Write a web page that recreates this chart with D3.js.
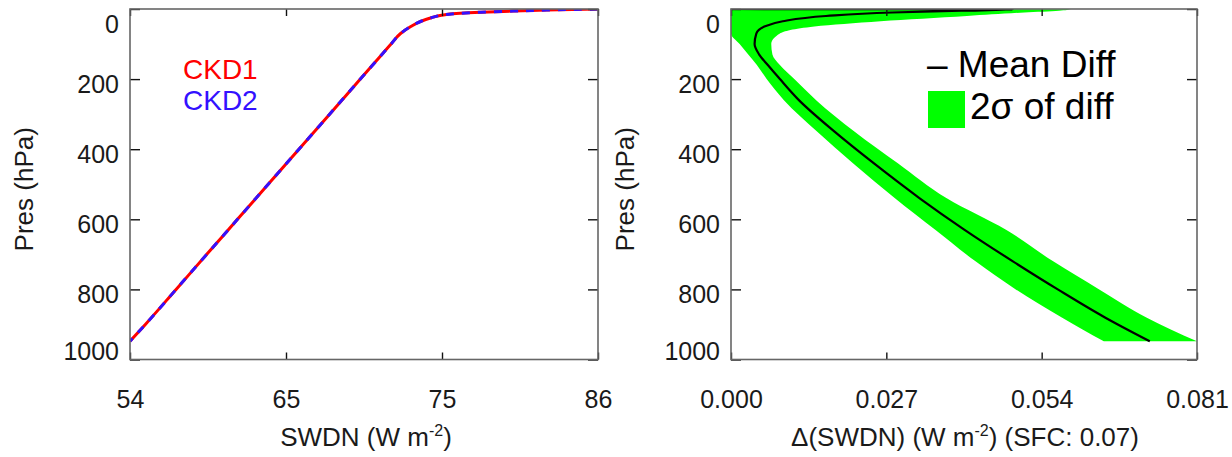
<!DOCTYPE html>
<html><head><meta charset="utf-8">
<script src="https://cdn.jsdelivr.net/npm/d3@7"></script>
<style>
body{margin:0;background:#fff;}
svg{display:block;font-family:"Liberation Sans",Arial,Helvetica,sans-serif;}
</style></head><body>
<svg id="c" width="1232" height="457"></svg>
<script>
// ---------- data ----------
const presLeft = [0, 3, 6, 9, 13, 18, 25, 35, 50, 70, 100, 150, 200, 300, 400, 500, 600, 700, 800, 900, 948];
const swdnCKD1 = [86.0, 82.5, 80.2, 78.0, 76.3, 75.3, 74.6, 73.9, 73.2, 72.5, 71.85, 70.8, 69.75, 67.65, 65.55, 63.45, 61.35, 59.25, 57.15, 55.05, 54.0];
const swdnCKD2 = [86.0, 82.5, 80.2, 78.0, 76.3, 75.3, 74.6, 73.9, 73.2, 72.5, 71.85, 70.8, 69.75, 67.65, 65.55, 63.45, 61.35, 59.25, 57.15, 55.05, 54.0];

const presDiff = [0, 1, 5, 10, 20, 35, 50, 70, 100, 130, 160, 200, 260, 350, 440, 540, 630, 720, 800, 880, 948];
const diffMean = [0, 0.0490, 0.0400, 0.0280, 0.0165, 0.0090, 0.0058, 0.0044, 0.0041, 0.0049, 0.0064, 0.0085, 0.0118, 0.0180, 0.0248, 0.0328, 0.0406, 0.0490, 0.0568, 0.0650, 0.0728];
const diffLow  = [0, 0.0000, 0.0000, 0.0000, 0.0000, 0.0000, 0.0000, 0.0000, 0.0015, 0.0030, 0.0045, 0.0062, 0.0092, 0.0150, 0.0212, 0.0285, 0.0355, 0.0425, 0.0495, 0.0575, 0.0648];
const diffHigh = [0, 0.0590, 0.0570, 0.0510, 0.0410, 0.0260, 0.0145, 0.0085, 0.0070, 0.0072, 0.0085, 0.0110, 0.0148, 0.0215, 0.0290, 0.0375, 0.0478, 0.0560, 0.0640, 0.0722, 0.0810];

const yTicks = [0, 200, 400, 600, 800, 1000];
const xTicksLeft = [54, 54 + 32 / 3, 54 + 64 / 3, 86];
const xTicksRight = [0, 0.027, 0.054, 0.081];
const legendLeft = ["CKD1", "CKD2"];
const legendRight = ["\u2013 Mean Diff", "2\u03c3 of diff"];

// ---------- layout ----------
const svg = d3.select("#c");
const yTop = 9, yBot = 359.5;
const txtCol = "#1a1a1a";
const y = d3.scaleLinear().domain([0, 1000]).range([yTop, yBot]);

function frame(g, x, xTicks, xFmt) {
  const [x0, x1] = x.range();
  const ax = g.append("g").attr("transform", `translate(${x0},0)`)
    .call(d3.axisLeft(y).tickValues(yTicks).tickSizeInner(-10).tickSizeOuter(0).tickPadding(11).tickFormat(d3.format("d")));
  ax.selectAll("text").attr("transform", d => `translate(0,${d === 0 ? 15 : d === 1000 ? -8.5 : 5})`);
  g.append("g").attr("transform", `translate(${x1},0)`)
    .call(d3.axisRight(y).tickValues(yTicks).tickSizeInner(-10).tickSizeOuter(0).tickFormat(""));
  g.append("g").attr("transform", `translate(0,${yBot})`)
    .call(d3.axisBottom(x).tickValues(xTicks).tickSizeInner(-7).tickSizeOuter(0).tickPadding(31).tickFormat(xFmt));
  g.append("g").attr("transform", `translate(0,${yTop})`)
    .call(d3.axisTop(x).tickValues(xTicks).tickSizeInner(-7).tickSizeOuter(0).tickFormat(""));
  g.selectAll(".domain").remove();
  g.selectAll(".tick line").attr("stroke", "#111").attr("stroke-width", 1.4);
  g.selectAll(".tick text").attr("font-size", 25).attr("fill", txtCol)
    .attr("font-family", "'Liberation Sans',Arial,sans-serif");
  g.append("rect").attr("x", x0).attr("y", yTop).attr("width", x1 - x0).attr("height", yBot - yTop)
    .attr("fill", "none").attr("stroke", "#666").attr("stroke-width", 1.6);
  g.append("text").attr("transform", `translate(${x0 - 97},${(yTop + yBot) / 2 + 5}) rotate(-90)`)
    .attr("text-anchor", "middle").attr("font-size", 26).attr("fill", txtCol).text("Pres (hPa)");
}

// ---------- left panel ----------
const xL = d3.scaleLinear().domain([54, 86]).range([130, 598]);
const gL = svg.append("g");
svg.append("clipPath").attr("id", "clipL").append("rect").attr("x", 130).attr("y", yTop).attr("width", 468).attr("height", yBot - yTop);

const lineL = (vals) => d3.line().x((d, i) => xL(vals[i])).y(d => y(d)).curve(d3.curveMonotoneY)(presLeft);
gL.append("path").attr("d", lineL(swdnCKD1)).attr("clip-path", "url(#clipL)")
  .attr("fill", "none").attr("stroke", "#ff0000").attr("stroke-width", 3);
gL.append("path").attr("d", lineL(swdnCKD2)).attr("clip-path", "url(#clipL)")
  .attr("fill", "none").attr("stroke", "#3311ff").attr("stroke-width", 3).attr("stroke-dasharray", "8,8");
frame(gL, xL, xTicksLeft, d3.format(".0f"));

gL.append("text").attr("x", 183).attr("y", 78.5).attr("font-size", 28).attr("fill", "#ff0000").text(legendLeft[0]);
gL.append("text").attr("x", 183).attr("y", 110).attr("font-size", 28).attr("fill", "#3311ff").text(legendLeft[1]);

const tL = gL.append("text").attr("x", 366).attr("y", 446).attr("text-anchor", "middle").attr("font-size", 26).attr("fill", txtCol);
tL.append("tspan").text("SWDN (W m");
tL.append("tspan").attr("dy", -10).attr("font-size", 16).text("-2");
tL.append("tspan").attr("dy", 10).text(")");

// ---------- right panel ----------
const xR = d3.scaleLinear().domain([0, 0.081]).range([731, 1197]);
const gR = svg.append("g");
svg.append("clipPath").attr("id", "clipR").append("rect").attr("x", 731).attr("y", yTop).attr("width", 466).attr("height", yBot - yTop);

const area = d3.area().x0((d, i) => xR(diffLow[i])).x1((d, i) => xR(diffHigh[i])).y(d => y(d)).curve(d3.curveMonotoneY);
gR.append("path").attr("d", area(presDiff)).attr("clip-path", "url(#clipR)").attr("fill", "#00ff00");
const lineR = d3.line().x((d, i) => xR(diffMean[i])).y(d => y(d)).curve(d3.curveMonotoneY);
gR.append("path").attr("d", lineR(presDiff)).attr("clip-path", "url(#clipR)")
  .attr("fill", "none").attr("stroke", "#000").attr("stroke-width", 2.2);
frame(gR, xR, xTicksRight, d3.format(".3f"));

gR.append("text").attr("x", 927).attr("y", 77).attr("font-size", 37).attr("fill", "#000").text(legendRight[0]);
gR.append("rect").attr("x", 928).attr("y", 91).attr("width", 37).attr("height", 37).attr("fill", "#00ff00");
gR.append("text").attr("x", 970).attr("y", 119).attr("font-size", 37).attr("fill", "#000").text(legendRight[1]);

const tR = gR.append("text").attr("x", 965).attr("y", 446).attr("text-anchor", "middle").attr("font-size", 26).attr("fill", txtCol);
tR.append("tspan").text("\u0394(SWDN) (W m");
tR.append("tspan").attr("dy", -10).attr("font-size", 16).text("-2");
tR.append("tspan").attr("dy", 10).text(") (SFC: 0.07)");
</script>
</body></html>
